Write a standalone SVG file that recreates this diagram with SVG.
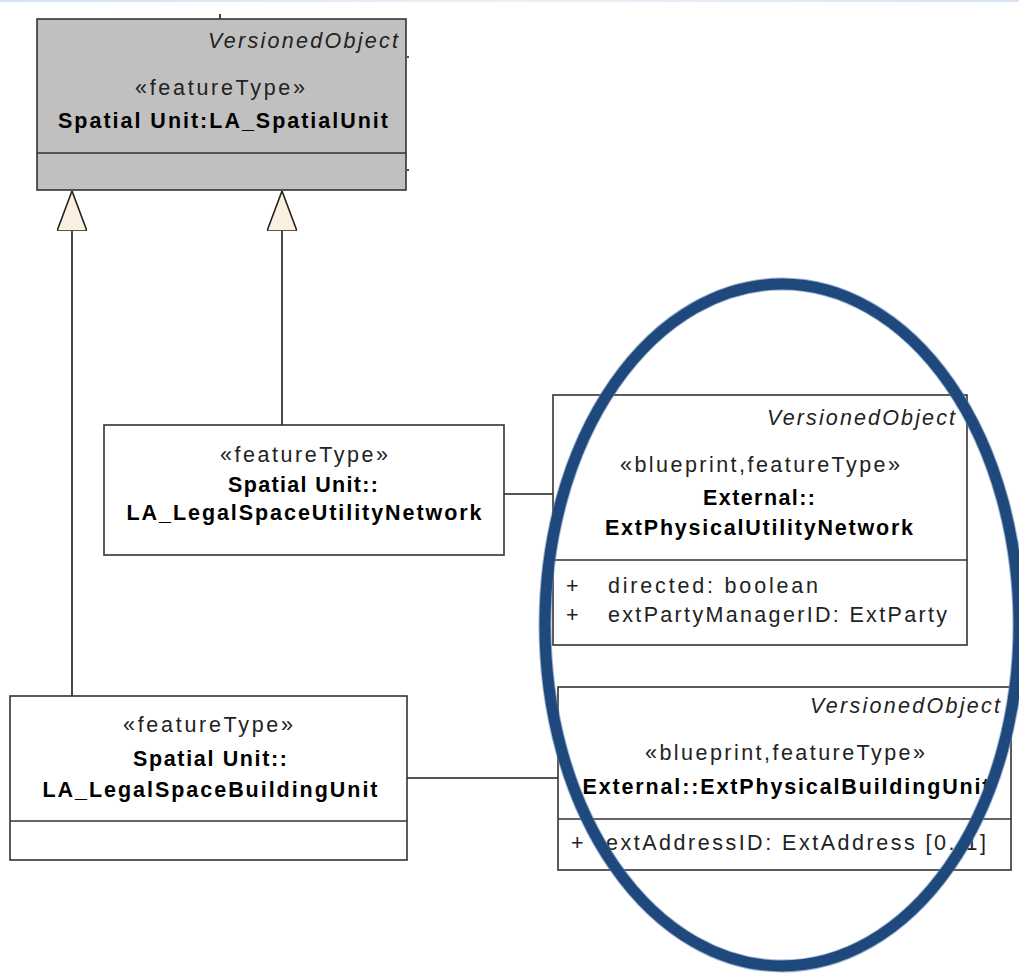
<svg xmlns="http://www.w3.org/2000/svg" width="1019" height="973" viewBox="0 0 1019 973">
  <style>
    .box { fill: #ffffff; stroke: #333333; stroke-width: 1.6; }
    .abstract { fill: #c0c0c0; }
    .sep { stroke: #333333; stroke-width: 1.6; fill: none; }
    .edge { stroke: #1a1a1a; stroke-width: 1.6; fill: none; }
    text { font-family: "Liberation Sans", Arial, sans-serif; font-size: 21.5px; fill: #222222; }
    .tag { font-style: italic; text-anchor: end; }
    .st { text-anchor: middle; }
    .name { font-weight: bold; text-anchor: middle; fill: #000000; }
    .ring { fill: none; stroke: #1f497d; stroke-width: 11; }
    .ring-edge { fill: none; stroke: #5a7fb0; stroke-width: 13; opacity: 0.6; }
  </style>
  <defs>
    <linearGradient id="band" x1="0" y1="0" x2="1" y2="0">
      <stop offset="0" stop-color="#d3e3f2"/>
      <stop offset="0.5" stop-color="#e8f1f9"/>
      <stop offset="1" stop-color="#d6e5f3"/>
    </linearGradient>
    <!-- hollow triangle head used for generalization -->
    <marker id="gen" viewBox="0 0 40 30" markerWidth="40" markerHeight="30" refX="40" refY="15" orient="auto" markerUnits="userSpaceOnUse">
      <path d="M0,0 L40,15 L0,30 Z" fill="#fbf0df" stroke="#222222" stroke-width="1.6"/>
    </marker>
  </defs>

  <rect x="0" y="0" width="1019" height="973" fill="#ffffff"/>
  <rect x="0" y="0" width="1019" height="2" fill="url(#band)"/>

  <!-- connectors -->
  <g id="connectors">
    <path class="edge" d="M72,696 L72,191" marker-end="url(#gen)"/>
    <path class="edge" d="M282,425 L282,191" marker-end="url(#gen)"/>
    <path class="edge" d="M504,494 L553,494"/>
    <path class="edge" d="M407,778 L558,778"/>
    <path class="edge" d="M220,14 L220,19"/>
    <path class="edge" d="M407,57 L409,57 M407,170 L409,170" stroke-width="1"/>
  </g>

  <!-- abstract parent class -->
  <g id="LA_SpatialUnit">
    <rect class="box abstract" x="37" y="19" width="369" height="171"/>
    <line class="sep" x1="37" y1="153" x2="406" y2="153"/>
    <text class="tag" x="398" y="48" textLength="190">VersionedObject</text>
    <text class="st" x="220" y="95" textLength="170">«featureType»</text>
    <text class="name" x="223" y="128" textLength="330">Spatial Unit:LA_SpatialUnit</text>
  </g>

  <g id="LA_LegalSpaceUtilityNetwork">
    <rect class="box" x="104" y="425" width="400" height="130"/>
    <text class="st" x="304" y="462" textLength="168">«featureType»</text>
    <text class="name" x="303" y="492" textLength="150">Spatial Unit::</text>
    <text class="name" x="304" y="520" textLength="355">LA_LegalSpaceUtilityNetwork</text>
  </g>

  <g id="ExtPhysicalUtilityNetwork">
    <rect class="box" x="553" y="395" width="414" height="250"/>
    <line class="sep" x1="553" y1="560" x2="967" y2="560"/>
    <text class="tag" x="955" y="425" textLength="188">VersionedObject</text>
    <text class="st" x="760" y="472" textLength="280">«blueprint,featureType»</text>
    <text class="name" x="759" y="505" textLength="112">External::</text>
    <text class="name" x="759" y="535" textLength="308">ExtPhysicalUtilityNetwork</text>
    <text x="566" y="593">+</text>
    <text x="608" y="593" textLength="210">directed:  boolean</text>
    <text x="566" y="622">+</text>
    <text x="608" y="622" textLength="339">extPartyManagerID:  ExtParty</text>
  </g>

  <g id="LA_LegalSpaceBuildingUnit">
    <rect class="box" x="10" y="696" width="397" height="164"/>
    <line class="sep" x1="10" y1="821" x2="407" y2="821"/>
    <text class="st" x="208" y="732" textLength="170">«featureType»</text>
    <text class="name" x="210" y="766" textLength="154">Spatial Unit::</text>
    <text class="name" x="210" y="797" textLength="335">LA_LegalSpaceBuildingUnit</text>
  </g>

  <g id="ExtPhysicalBuildingUnit">
    <rect class="box" x="558" y="687" width="453" height="183"/>
    <line class="sep" x1="558" y1="819" x2="1011" y2="819"/>
    <text class="tag" x="1000" y="713" textLength="190">VersionedObject</text>
    <text class="st" x="785" y="760" textLength="280">«blueprint,featureType»</text>
    <text class="name" x="786" y="794" textLength="407">External::ExtPhysicalBuildingUnit</text>
    <text x="571" y="850">+</text>
    <text x="606" y="850" textLength="380">extAddressID:  ExtAddress [0..1]</text>
  </g>

  <!-- highlight ring drawn over the external classes -->
  <g id="highlight">
    <ellipse class="ring-edge" cx="782" cy="625" rx="237" ry="341"/>
    <ellipse class="ring" cx="782" cy="625" rx="237" ry="341"/>
  </g>
</svg>
